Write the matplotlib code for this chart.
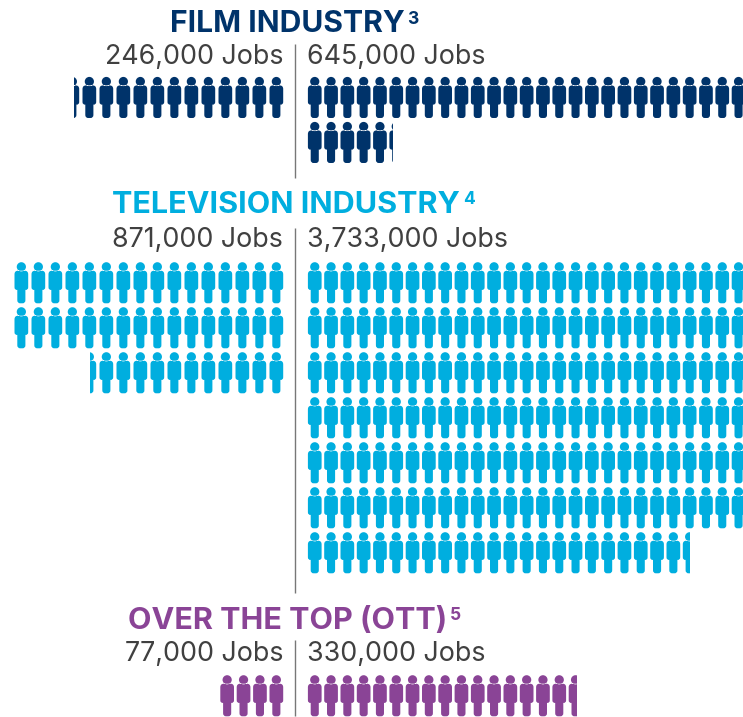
import matplotlib
matplotlib.use("Agg")
import matplotlib.pyplot as plt
from matplotlib.path import Path
from matplotlib.patches import PathPatch, Rectangle

# Each figure stands for this many jobs
JOBS_PER_FIGURE = 20000

titles = ["FILM INDUSTRY", "TELEVISION INDUSTRY", "OVER THE TOP (OTT)"]
title_notes = ["3", "4", "5"]
colors = ["#00336A", "#00AEDF", "#8A4496"]
left_jobs = [246000, 871000, 77000]
right_jobs = [645000, 3733000, 330000]
# how many figures fill one row before wrapping
left_row_size = [16, 16.1, 16]
right_row_size = [27, 27.2, 27]

# layout in pixels
title_x = [169.5, 112.5, 127.5]
title_size = [21.6, 22, 22]
title_base = [32, 213, 629]
label_base = [64, 247, 661]
rows_top = [77, 262.3, 675.3]
divider_span = [(44, 178), (228, 593), (640, 716)]
center_x = 295.3
left_edge = 283.2
right_edge = 307.9
left_pitch = [17.0, 17.0, 16.4]
right_pitch = 16.3
row_pitch = 45.0
W, H = 743, 717

# one person, 13.7 wide and 41 tall, origin at top left of the figure
PERSON_W = 13.7
C = 0.5523
head_r = 4.6
hx = PERSON_W / 2
hy = 4.5
person = Path(
    [(hx + head_r, hy), (hx + head_r, hy + C * head_r), (hx + C * head_r, hy + head_r), (hx, hy + head_r),
     (hx - C * head_r, hy + head_r), (hx - head_r, hy + C * head_r), (hx - head_r, hy),
     (hx - head_r, hy - C * head_r), (hx - C * head_r, hy - head_r), (hx, hy - head_r),
     (hx + C * head_r, hy - head_r), (hx + head_r, hy - C * head_r), (hx + head_r, hy),
     (3.6, 8.4), (0, 8.4), (0, 12), (0, 25), (0, 28), (2.8, 27.6),
     (2.8, 38), (2.8, 41), (5.6, 41), (6.85, 41), (8.1, 41), (10.9, 41), (10.9, 38),
     (10.9, 27.6), (13.7, 28), (13.7, 25), (13.7, 12), (13.7, 8.4), (10.1, 8.4), (3.6, 8.4)],
    [Path.MOVETO] + [Path.CURVE4] * 12 +
    [Path.MOVETO, Path.CURVE3, Path.CURVE3, Path.LINETO, Path.CURVE3, Path.CURVE3,
     Path.LINETO, Path.CURVE3, Path.CURVE3, Path.LINETO, Path.LINETO, Path.CURVE3, Path.CURVE3,
     Path.LINETO, Path.CURVE3, Path.CURVE3, Path.LINETO, Path.CURVE3, Path.CURVE3, Path.CLOSEPOLY],
)


def split_rows(jobs, row_size):
    # full rows first, what is left goes in the last row
    total = jobs / JOBS_PER_FIGURE
    rows = []
    while total > row_size:
        rows.append(int(row_size))
        total -= row_size
    rows.append(total)
    return rows


def draw_row(ax, count, top, color, pitch, from_right):
    whole = int(count)
    n = whole + (1 if count > whole else 0)
    parts = []
    for i in range(n):
        if from_right:
            x = left_edge - PERSON_W - i * pitch
        else:
            x = right_edge + i * pitch
        parts.append(Path(person.vertices + (x, top), person.codes))
    # partial figures are cut off at the end of the row
    if from_right:
        clip_x0 = left_edge - count * pitch
        clip_x1 = left_edge + 1
    else:
        clip_x0 = right_edge - 1
        clip_x1 = right_edge + count * pitch
    patch = PathPatch(Path.make_compound_path(*parts), fc=color, ec="none", lw=0)
    ax.add_patch(patch)
    patch.set_clip_path(Rectangle((clip_x0, top - 1), clip_x1 - clip_x0, 44, transform=ax.transData))


fig = plt.figure(figsize=(W / 100, H / 100), dpi=100)
ax = fig.add_axes([0, 0, 1, 1])
ax.set_xlim(0, W)
ax.set_ylim(H, 0)
ax.axis("off")

renderer = fig.canvas.get_renderer()
for k in range(3):
    t = ax.text(title_x[k], title_base[k], titles[k], color=colors[k], fontsize=title_size[k], fontweight="bold",
                family="Inter", va="baseline", ha="left")
    end = ax.transData.inverted().transform(t.get_window_extent(renderer))[1][0]
    ax.text(end + 3, title_base[k] - 8.5, title_notes[k], color=colors[k], fontsize=12.5, fontweight="bold",
            family="Inter", va="baseline", ha="left")

    ax.text(left_edge, label_base[k], f"{left_jobs[k]:,} Jobs", color="#404040", fontsize=19.3,
            family="Inter", va="baseline", ha="right")
    ax.text(right_edge - 1, label_base[k], f"{right_jobs[k]:,} Jobs", color="#404040", fontsize=19.3,
            family="Inter", va="baseline", ha="left")

    ax.plot([center_x, center_x], divider_span[k], color="#777777", lw=1.0, solid_capstyle="butt")

    for r, count in enumerate(split_rows(left_jobs[k], left_row_size[k])):
        draw_row(ax, count, rows_top[k] + r * row_pitch, colors[k], left_pitch[k], True)
    for r, count in enumerate(split_rows(right_jobs[k], right_row_size[k])):
        draw_row(ax, count, rows_top[k] + r * row_pitch, colors[k], right_pitch, False)

fig.savefig("out.png", dpi=100, facecolor="white")
